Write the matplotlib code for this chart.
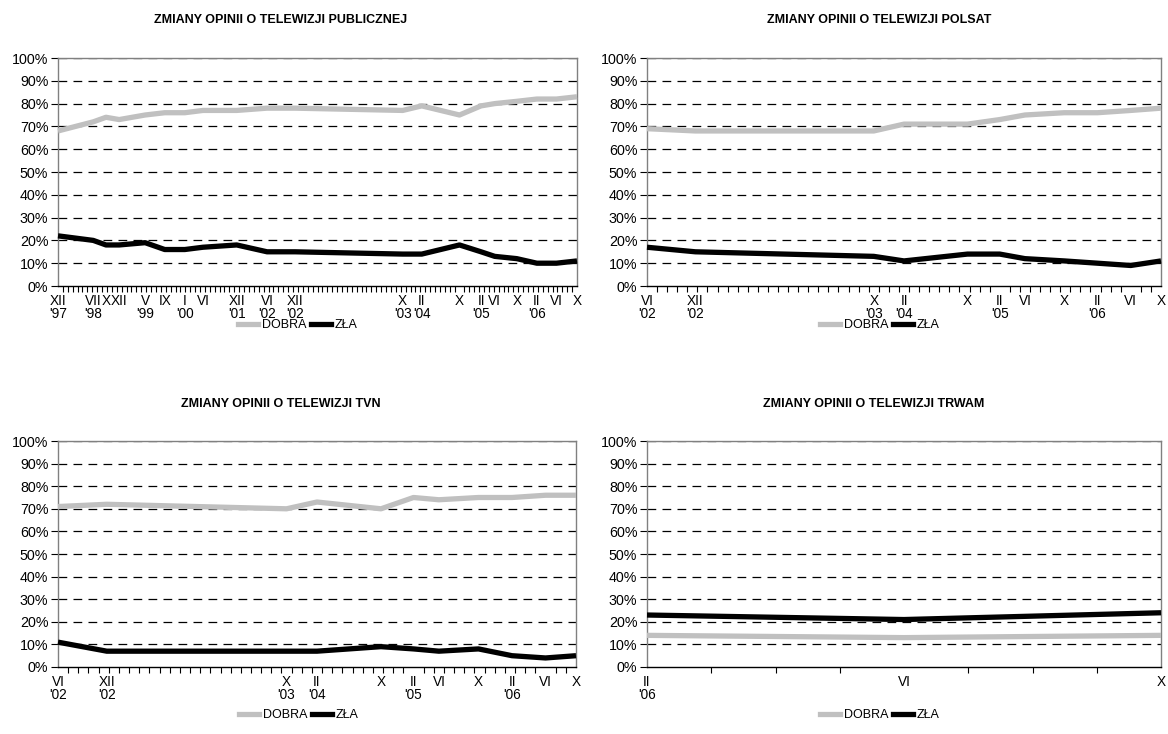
import matplotlib
matplotlib.use("Agg")
import matplotlib.pyplot as plt
from matplotlib.lines import Line2D

plt.rcParams['font.family'] = ['Liberation Sans', 'DejaVu Sans']

# ---------------- data ----------------
# Panel 1: TVP (public TV)
pub_x = [0, 7.2, 9.8, 12.5, 17.8, 21.8, 25.9, 29.6, 36.5, 42.7, 48.4,
         70.4, 74.3, 82, 86.4, 89.2, 93.7, 97.8, 101.8, 106]
pub_labels = ["XII\n'97", "VII\n'98", "X", "XII", "V\n'99", "IX", "I\n'00", "VI",
              "XII\n'01", "VI\n'02", "XII\n'02", "X\n'03", "II\n'04", "X", "II\n'05",
              "VI", "X", "II\n'06", "VI", "X"]
pub_dobra = [68, 72, 74, 73, 75, 76, 76, 77, 77, 78, 78, 77, 79, 75, 79, 80, 81, 82, 82, 83]
pub_zla = [22, 20, 18, 18, 19, 16, 16, 17, 18, 15, 15, 14, 14, 18, 15, 13, 12, 10, 10, 11]

# Panels 2 & 3: Polsat, TVN
com_x = [0, 4.8, 22.5, 25.5, 31.8, 35, 37.5, 41.4, 44.7, 48, 51]
com_labels = ["VI\n'02", "XII\n'02", "X\n'03", "II\n'04", "X", "II\n'05", "VI", "X",
              "II\n'06", "VI", "X"]
polsat_dobra = [69, 68, 68, 71, 71, 73, 75, 76, 76, 77, 78]
polsat_zla = [17, 15, 13, 11, 14, 14, 12, 11, 10, 9, 11]
tvn_dobra = [71, 72, 70, 73, 70, 75, 74, 75, 75, 76, 76]
tvn_zla = [11, 7, 7, 7, 9, 8, 7, 8, 5, 4, 5]

# Panel 4: Trwam
trwam_x = [0, 4, 8]
trwam_labels = ["II\n'06", "VI", "X"]
trwam_dobra = [14, 13, 14]
trwam_zla = [23, 21, 24]

titles = ["ZMIANY OPINII O TELEWIZJI PUBLICZNEJ", "ZMIANY OPINII O TELEWIZJI POLSAT",
          "ZMIANY OPINII O TELEWIZJI TVN", "ZMIANY OPINII O TELEWIZJI TRWAM"]
series_names = ["DOBRA", "ZŁA"]

# ---------------- figure ----------------
W, H = 1168, 734
fig = plt.figure(figsize=(W / 100, H / 100), dpi=100)
fig.patch.set_facecolor('white')

GRAY = '#c0c0c0'
BLACK = '#000000'
LW = 3.8


def px_axes(x0, y0, x1, y1):
    return fig.add_axes([x0 / W, 1 - y1 / H, (x1 - x0) / W, (y1 - y0) / H])


def panel(ax, xs, labels, dobra, zla, xmax, title, title_xy, leg_xy):
    ax.set_xlim(0, xmax)
    ax.set_ylim(0, 100)
    for y in range(10, 101, 10):
        ax.axhline(y, color='black', lw=0.9, dashes=(7, 5), zorder=1)
    ax.plot(xs, dobra, color=GRAY, lw=LW, solid_capstyle='butt', zorder=3,
            label=series_names[0], clip_on=False)
    ax.plot(xs, zla, color=BLACK, lw=LW, solid_capstyle='butt', zorder=4,
            label=series_names[1], clip_on=False)
    ax.set_yticks(range(0, 101, 10))
    ax.set_yticklabels([f"{v}%" for v in range(0, 101, 10)], fontsize=10.3)
    ax.set_xticks(xs)
    ax.set_xticklabels(labels, fontsize=9.8, linespacing=0.92)
    ax.set_xticks(range(0, int(xmax) + 1), minor=True)
    ax.tick_params(axis='x', which='major', length=0, pad=5.5)
    ax.tick_params(axis='x', which='minor', length=4.5, width=0.8, direction='out')
    ax.tick_params(axis='y', which='major', length=5, width=0.8, direction='out', pad=2)
    for s in ['left', 'right', 'top']:
        ax.spines[s].set_color('#808080')
        ax.spines[s].set_linewidth(1.0)
    ax.spines['bottom'].set_color('black')
    ax.spines['bottom'].set_linewidth(1.0)
    fig.text(title_xy[0] / W, 1 - title_xy[1] / H, title, ha='center', va='center',
             fontsize=9, fontweight='bold')
    handles = [Line2D([], [], color=GRAY, lw=LW), Line2D([], [], color=BLACK, lw=LW)]
    ax.legend(handles, series_names, loc='center', bbox_to_anchor=(leg_xy[0] / W, 1 - leg_xy[1] / H),
              bbox_transform=fig.transFigure, ncol=2, frameon=False, fontsize=9,
              handlelength=1.6, handletextpad=0.3, columnspacing=0.4,
              borderpad=0.0)


ax1 = px_axes(58, 58, 577, 286)
panel(ax1, pub_x, pub_labels, pub_dobra, pub_zla, 106, titles[0], (281, 20), (298, 325))
ax2 = px_axes(647, 58, 1161, 286)
panel(ax2, com_x, com_labels, polsat_dobra, polsat_zla, 51, titles[1], (879, 20), (880, 325))
ax3 = px_axes(58, 441, 576, 667)
panel(ax3, com_x, com_labels, tvn_dobra, tvn_zla, 51, titles[2], (281, 404), (299, 715))
ax4 = px_axes(647, 441, 1161, 667)
panel(ax4, trwam_x, trwam_labels, trwam_dobra, trwam_zla, 8, titles[3], (874, 404), (880, 715))

fig.savefig('out.png', dpi=100, facecolor='white')
